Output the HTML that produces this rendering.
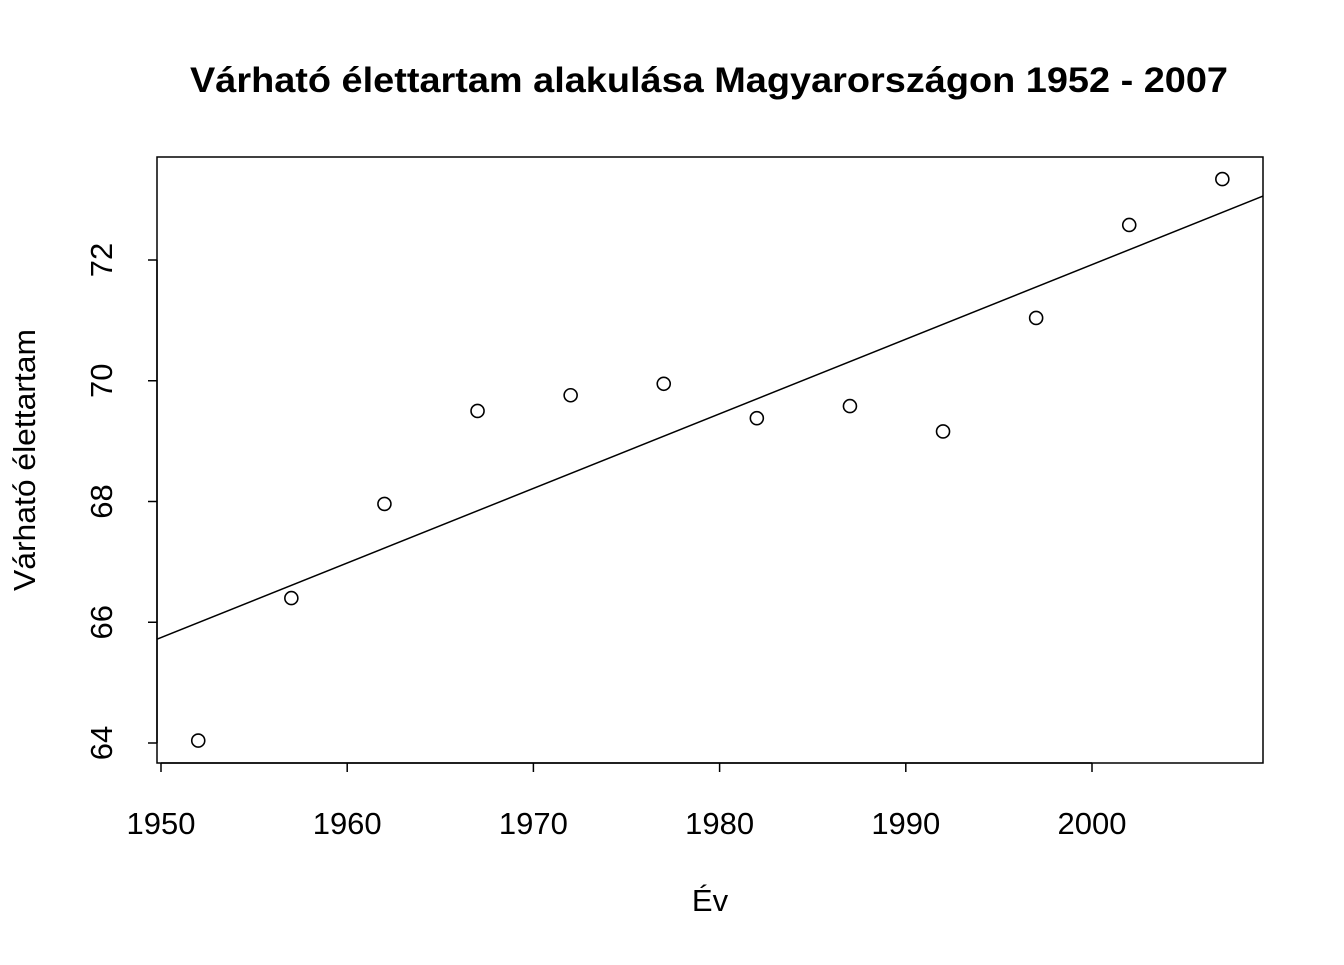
<!DOCTYPE html>
<html><head><meta charset="utf-8"><style>
html,body{margin:0;padding:0;background:#fff;}
svg text{font-family:"Liberation Sans",Arial,sans-serif;}
</style></head><body>
<svg id="chart" width="1344" height="960" xmlns="http://www.w3.org/2000/svg">
<text x="709" y="92" text-anchor="middle" font-size="35" font-weight="bold" textLength="1038" lengthAdjust="spacingAndGlyphs">Várható élettartam alakulása Magyarországon 1952 - 2007</text>
<rect x="157" y="157" width="1106" height="606" fill="none" stroke="#000" stroke-width="1.5"/>
<text x="710" y="911" text-anchor="middle" font-size="31">Év</text>
<text transform="translate(35,460) rotate(-90)" text-anchor="middle" font-size="31" textLength="262" lengthAdjust="spacingAndGlyphs">Várható élettartam</text>
<g id="marks"></g>
</svg>
<script>
const years = [1952,1957,1962,1967,1972,1977,1982,1987,1992,1997,2002,2007];
const lifeExp = [64.04,66.40,67.96,69.50,69.76,69.95,69.38,69.58,69.16,71.04,72.58,73.34];
const xTicks = [1950,1960,1970,1980,1990,2000];
const yTicks = [64,66,68,70,72];
const NS="http://www.w3.org/2000/svg";
const svg=document.getElementById('marks');
function X(v){return 161+(v-1950)*(1092-161)/50;}
function Y(v){return 743-(v-64)*(743-260)/8;}
function mk(t,a){const e=document.createElementNS(NS,t);for(const k in a)e.setAttribute(k,a[k]);svg.appendChild(e);return e;}
let ax=mk('line',{x1:X(xTicks[0]),x2:X(xTicks[xTicks.length-1]),y1:763,y2:763,stroke:'#000','stroke-width':1.5});


xTicks.forEach(t=>{
 const l=mk('line',{x1:X(t),x2:X(t),y1:763,y2:772,stroke:'#000','stroke-width':1.5});
 
 
 const tx=mk('text',{x:X(t),y:834,'text-anchor':'middle','font-size':31});
 tx.textContent=t;
 
 
});
let ay=mk('line',{x1:157,x2:157,y1:Y(yTicks[0]),y2:Y(yTicks[yTicks.length-1]),stroke:'#000','stroke-width':1.5});


yTicks.forEach(t=>{
 const l=mk('line',{x1:148,x2:157,y1:Y(t),y2:Y(t),stroke:'#000','stroke-width':1.5});
 
 
 const tx=mk('text',{transform:`translate(112,${Y(t)}) rotate(-90)`,'text-anchor':'middle','font-size':31});
 tx.textContent=t;
 
 
});
const n=years.length;const mx=years.reduce((a,b)=>a+b)/n;const my=lifeExp.reduce((a,b)=>a+b)/n;
let sxy=0,sxx=0;for(let i=0;i<n;i++){sxy+=(years[i]-mx)*(lifeExp[i]-my);sxx+=(years[i]-mx)**2;}
const b=sxy/sxx,a=my-b*mx;
const x0=1950+(157-161)*50/(1092-161),x1=1950+(1263-161)*50/(1092-161);
const rl=mk('line',{x1:157,x2:1263,y1:Y(a+b*x0),y2:Y(a+b*x1),stroke:'#000','stroke-width':1.5});


years.forEach((yr,i)=>{
 const c=mk('circle',{cx:X(yr),cy:Y(lifeExp[i]),r:6.5,fill:'none',stroke:'#000','stroke-width':1.6});
 
 
});
</script>
</body></html>
